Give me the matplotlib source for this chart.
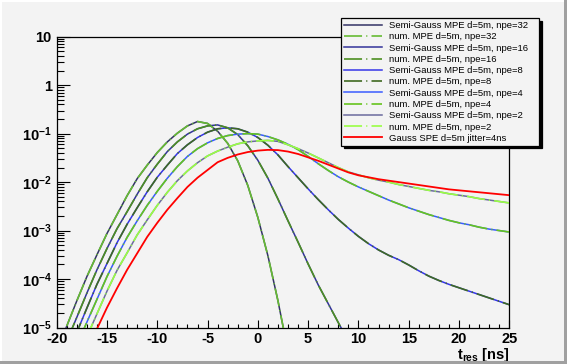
import numpy as np
import matplotlib
matplotlib.use("Agg")
import matplotlib.pyplot as plt
from matplotlib.patches import Rectangle
from matplotlib.ticker import FixedLocator, LogLocator, NullFormatter, MultipleLocator

plt.rcParams['font.family'] = ['Liberation Sans', 'DejaVu Sans']
plt.rcParams['mathtext.fontset'] = 'custom'
plt.rcParams['mathtext.rm'] = 'Liberation Sans'
plt.rcParams['mathtext.bf'] = 'Liberation Sans:bold'
plt.rcParams['mathtext.it'] = 'Liberation Sans:italic'
plt.rcParams['lines.scale_dashes'] = False

# ---------------- data (log10 of the distribution) -------------
t_npe32 = list(range(-20, 4))
log_npe32 = [-5.50, -4.97, -4.45, -3.95, -3.50, -3.06, -2.67, -2.28, -1.93, -1.65,
             -1.39, -1.17, -0.99, -0.84, -0.75, -0.79, -0.95, -1.20, -1.56, -2.07,
             -2.73, -3.52, -4.45, -5.50]

t_npe16 = list(range(-20, 10))
log_npe16 = [-5.78, -5.28, -4.79, -4.29, -3.81, -3.37, -2.96, -2.61, -2.25, -1.91,
             -1.63, -1.37, -1.17, -1.01, -0.90, -0.84, -0.82, -0.88, -1.02, -1.25,
             -1.55, -1.92, -2.35, -2.80, -3.24, -3.69, -4.12, -4.51, -4.90, -5.28]

t_full = list(range(-20, 26))
log_npe8 = [-6.10, -5.60, -5.10, -4.60, -4.11, -3.68, -3.25, -2.87, -2.53, -2.20,
            -1.90, -1.65, -1.41, -1.23, -1.08, -0.97, -0.90, -0.88, -0.90, -0.97,
            -1.08, -1.24, -1.44, -1.68, -1.91, -2.14, -2.36, -2.57, -2.77, -2.95,
            -3.12, -3.27, -3.40, -3.51, -3.60, -3.71, -3.83, -3.94, -4.03, -4.11,
            -4.18, -4.25, -4.32, -4.39, -4.46, -4.53]
log_npe4 = [-6.35, -5.85, -5.37, -4.89, -4.42, -3.95, -3.53, -3.14, -2.80, -2.48,
            -2.19, -1.92, -1.68, -1.47, -1.31, -1.19, -1.10, -1.04, -1.01, -1.00,
            -1.01, -1.06, -1.13, -1.22, -1.33, -1.47, -1.62, -1.76, -1.89, -2.00,
            -2.10, -2.19, -2.28, -2.37, -2.45, -2.53, -2.60, -2.67, -2.73, -2.79,
            -2.84, -2.88, -2.93, -2.97, -3.00, -3.03]
log_npe2 = [-6.70, -6.15, -5.65, -5.19, -4.72, -4.25, -3.82, -3.46, -3.09, -2.78,
            -2.48, -2.21, -1.97, -1.77, -1.60, -1.46, -1.36, -1.28, -1.21, -1.17,
            -1.15, -1.14, -1.16, -1.23, -1.31, -1.40, -1.50, -1.60, -1.70, -1.79,
            -1.85, -1.91, -1.96, -2.00, -2.05, -2.09, -2.13, -2.17, -2.20, -2.24,
            -2.27, -2.30, -2.34, -2.37, -2.40, -2.43]
log_spe = [-6.87, -6.40, -5.93, -5.47, -5.03, -4.59, -4.19, -3.81, -3.47, -3.13,
           -2.84, -2.57, -2.33, -2.10, -1.91, -1.75, -1.59, -1.50, -1.43, -1.38,
           -1.35, -1.335, -1.34, -1.37, -1.42, -1.49, -1.56, -1.64, -1.72, -1.80,
           -1.86, -1.90, -1.94, -1.97, -2.00, -2.03, -2.06, -2.09, -2.12, -2.15,
           -2.17, -2.19, -2.21, -2.23, -2.25, -2.27]

npe_values = [32, 16, 8, 4, 2]
sg_colors = ['#333366', '#333399', '#3535e8', '#3a5cff', '#6b6b9e']
num_colors = ['#66bb33', '#4d8f22', '#3f6a22', '#66c41e', '#99ff44']
spe_color = '#ff0000'

x_ticks = [-20, -15, -10, -5, 0, 5, 10, 15, 20, 25]
y_ticks = [1e-5, 1e-4, 1e-3, 1e-2, 1e-1, 1, 10]
y_ticklabels = [r'$\mathbf{10^{-5}}$', r'$\mathbf{10^{-4}}$', r'$\mathbf{10^{-3}}$',
                r'$\mathbf{10^{-2}}$', r'$\mathbf{10^{-1}}$', '1', '10']

# ---------------- figure ----------------
W, H = 567, 364
bg = '#f3f3f3'
fig = plt.figure(figsize=(W / 100, H / 100), dpi=100, facecolor=bg)

# canvas bevel
fig.patches.append(Rectangle((0, 1 - 2 / H), 1, 2 / H, transform=fig.transFigure,
                             facecolor='white', edgecolor='none', zorder=0))
fig.patches.append(Rectangle((0, 0), 2 / W, 1, transform=fig.transFigure,
                             facecolor='white', edgecolor='none', zorder=0))
fig.patches.append(Rectangle((0, 0), 1, 3 / H, transform=fig.transFigure,
                             facecolor='#a0a0a0', edgecolor='none', zorder=0))
fig.patches.append(Rectangle((1 - 3 / W, 0), 3 / W, 1, transform=fig.transFigure,
                             facecolor='#a0a0a0', edgecolor='none', zorder=0))

x0, x1 = 56.7, 509.3
y0, y1 = 36.7, 327.5
ax = fig.add_axes([x0 / W, 1 - y1 / H, (x1 - x0) / W, (y1 - y0) / H])
ax.set_facecolor(bg)

t_sets = [t_npe32, t_npe16, t_full, t_full, t_full]
log_sets = [log_npe32, log_npe16, log_npe8, log_npe4, log_npe2]

handles = []
labels = []
dash = (0, (13, 3, 0.8, 3))
for npe, tt, ll, cs, cn in zip(npe_values, t_sets, log_sets, sg_colors, num_colors):
    yy = 10.0 ** np.array(ll)
    h1, = ax.plot(tt, yy, color=cs, lw=1.1, solid_joinstyle='round', zorder=3)
    h2, = ax.plot(tt, yy, color=cn, lw=1.2, linestyle=dash, zorder=4)
    handles += [h1, h2]
    labels += [f'Semi-Gauss MPE d=5m, npe={npe}', f'num. MPE d=5m, npe={npe}']
h3, = ax.plot(t_full, 10.0 ** np.array(log_spe), color=spe_color, lw=1.3, zorder=5)
handles.append(h3)
labels.append('Gauss SPE d=5m jitter=4ns')

ax.set_yscale('log')
ax.set_xlim(-20, 25)
ax.set_ylim(1e-5, 10)

ax.xaxis.set_major_locator(FixedLocator(x_ticks))
ax.xaxis.set_minor_locator(MultipleLocator(1))
ax.set_xticklabels([str(v) for v in x_ticks])
ax.yaxis.set_major_locator(FixedLocator(y_ticks))
ax.yaxis.set_minor_locator(LogLocator(base=10, subs=np.arange(2, 10)))
ax.yaxis.set_minor_formatter(NullFormatter())
ax.set_yticklabels(y_ticklabels)

ax.tick_params(axis='both', which='both', direction='in', top=False, right=False,
               width=0.8, color='black')
ax.tick_params(axis='x', which='major', length=5.8, pad=3.3, labelsize=10.5)
ax.tick_params(axis='x', which='minor', length=2.9)
ax.tick_params(axis='y', which='major', length=9.4, pad=3.5, labelsize=10.5)
ax.tick_params(axis='y', which='minor', length=5.0)
for lab in ax.get_xticklabels() + ax.get_yticklabels():
    lab.set_fontweight('bold')

for s in ax.spines.values():
    s.set_linewidth(0.9)
    s.set_color('black')

ax.set_xlabel(r'$\mathbf{t_{res}}$ [ns]', fontsize=10.5, fontweight='bold', ha='right')
ax.xaxis.set_label_coords(1.0, -0.062)

# legend
lx0, lx1, ly0, ly1 = 341, 539, 18.3, 145.7
leg = ax.legend(handles, labels, loc='upper left',
                bbox_to_anchor=(lx0 / W, 1 - ly1 / H, (lx1 - lx0) / W, (ly1 - ly0) / H),
                bbox_transform=fig.transFigure, mode='expand', borderaxespad=0,
                fontsize=6.8, frameon=True, fancybox=False, framealpha=1,
                facecolor=bg, edgecolor='black',
                shadow={'color': 'black', 'alpha': 1},
                handlelength=4.0, handletextpad=0.75, labelspacing=0.24,
                borderpad=0.3)
leg.get_frame().set_linewidth(0.9)
leg.set_zorder(10)

fig.savefig('out.png', dpi=100, facecolor=bg)
